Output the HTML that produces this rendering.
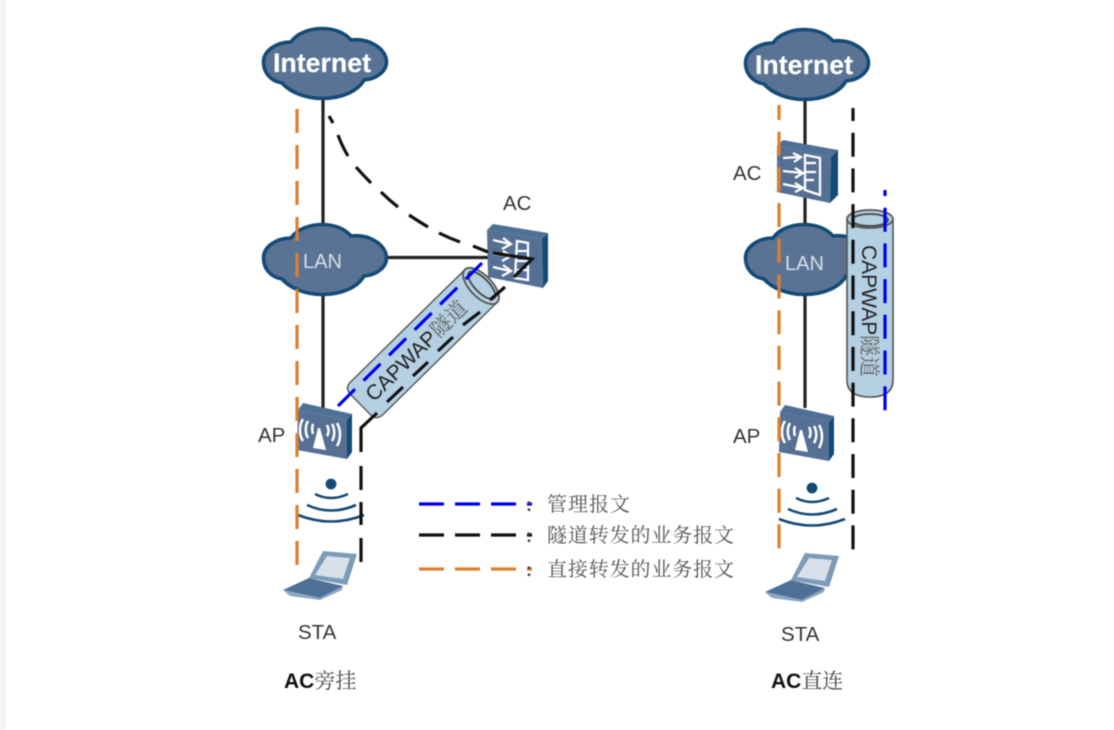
<!DOCTYPE html>
<html><head><meta charset="utf-8">
<style>
html,body{margin:0;padding:0;background:#fff;width:1114px;height:730px;overflow:hidden}
svg{display:block;filter:blur(0.55px)}
.lat{font-family:"Liberation Sans",sans-serif}
.cjk{font-family:"Noto Serif CJK SC","Liberation Serif",serif}
.lbl{font-family:"Liberation Sans",sans-serif;font-size:20.5px;fill:#333}
.leg{font-family:"Noto Serif CJK SC","Liberation Serif",serif;font-size:20px;fill:#555}
</style></head><body>
<svg width="1114" height="730" viewBox="0 0 1114 730" xmlns="http://www.w3.org/2000/svg">
<defs>
<path id="cloud" d="M263.5 62C263.5 51 276 42 291 42C297 33 310 28.5 322 28.5C335 28.5 345 33 351 40C370 38 386.5 49 386.5 62C386.5 71 377 79 364 80C358 91 342 98.5 322 98.5C305 98.5 290 92 282 83C270 81 263.5 72 263.5 62Z" fill="#5a7394" stroke="#134a76" stroke-width="3.6"/>
<g id="ap">
<polygon points="298,410 303,403 352,414 347,420" fill="#4f7096"/>
<polygon points="298,410 347,420 347,459 297,450" fill="#557093"/>
<polygon points="347,420 352,414 352,452 347,459" fill="#134a76"/>
<g fill="none" stroke="#fff" stroke-width="2.5">
<path d="M303 419C299 425 299 435 303 441"/>
<path d="M308 421C305 426 305 433 308 438"/>
<path d="M313 424C312 427 312 431 313 434"/>
<path d="M327 425C329 429 329 433 327 436"/>
<path d="M332 424C335 429 335 436 332 441"/>
<path d="M337 423C341 430 341 439 337 446"/>
</g>
<polygon points="313,448 326,450 320,428 318,428" fill="#fff"/>
</g>
<g id="wifi" fill="none" stroke="#134a76" stroke-width="2.6">
<circle cx="331" cy="484" r="5.4" fill="#134a76" stroke="none"/>
<path d="M315 494Q331 502 348 494"/>
<path d="M307 505Q331 516 356 505"/>
<path d="M298 515Q331 528 364 515"/>
</g>
<g id="laptop">
<polygon points="323,551 357,554 347,585 309,578" fill="#7b9bb8"/>
<polygon points="327,556 350,558 343,579 315,575" fill="#d8e0ea"/>
<polygon points="283,590 309,578 343,586 320,598" fill="#4f7096"/>
<polygon points="283,590 320,598 343,586 342,590 320,600 290,596" fill="#8aa6c0"/>
</g>
</defs>

<rect x="0" y="0" width="6" height="730" fill="#f1f3f5"/>

<!-- left diagram -->
<g stroke="#222" stroke-width="3.2" fill="none">
<path d="M323 98V230"/><path d="M323 290V408"/><path d="M385 257.5H492"/>
</g>
<use href="#cloud"/>
<use href="#cloud" y="196"/>
<text x="322" y="72" text-anchor="middle" class="lat" font-size="26.5" font-weight="bold" fill="#fff" stroke="#dfe6ee" stroke-width=".3" textLength="98" lengthAdjust="spacingAndGlyphs">Internet</text>
<text x="303" y="268" class="lat" font-size="20" fill="#d8dfe8">LAN</text>

<!-- left AC -->
<polygon points="487,230 493,224 548,233 542,239" fill="#4f7096"/>
<polygon points="487,230 542,239 543,288 488,277" fill="#557093"/>
<polygon points="542,239 548,233 548,281 543,288" fill="#134a76"/>
<g fill="none" stroke="#fff" stroke-width="2.3">
<path d="M517 241L528 243V280L515 278Z"/>
<path d="M517 251H528M517 261H528M517 270H528"/>
<path d="M493 240L510 244M503 238L511 244L502 249"/>
<path d="M493 254L510 256M503 251L511 256L502 261"/>
<path d="M493 267L510 271M503 265L511 271L502 276"/>
</g>

<use href="#ap"/>
<use href="#wifi"/>
<use href="#laptop"/>

<!-- left tunnel -->
<g transform="translate(481 286) rotate(-44.5)">
<path d="M0 -23H-160Q-169 -23 -169 -14V14Q-169 23 -160 23H0Z" fill="#b4d0e2" stroke="#555" stroke-width="1.4"/>
<ellipse cx="0" cy="0" rx="11" ry="23" fill="#b4d0e2" stroke="#555" stroke-width="1.8"/>
<ellipse cx="1" cy="0" rx="7" ry="18" fill="#b4d0e2" stroke="#444" stroke-width="1.8"/>
<text x="-158" y="8" class="lat" font-size="21" fill="#222">CAPWAP</text>
<text x="-67" y="8" class="cjk" font-size="21" fill="#666">隧道</text>
</g>

<!-- left flows -->
<path d="M297 109V566" stroke="#dd7f2e" stroke-width="3.2" fill="none" stroke-dasharray="24 12"/>
<g stroke="#111" stroke-width="3.2" fill="none">
<path d="M329 116L333 123"/>
<path d="M338 135Q342 146 348 156"/>
<path d="M356 167Q363 175 371 183"/>
<path d="M381 192Q389 200 398 207"/>
<path d="M409 215Q418 221 428 227"/>
<path d="M439 233Q449 238 460 242"/>
<path d="M473 246L488 252"/>
<path d="M493 253L532 259L514 277"/>
<path d="M505 287L490 300"/>
<path d="M480 312L463 325"/>
<path d="M453 337L438 351"/>
<path d="M428 362L413 376"/>
<path d="M403 387L387 402"/>
<path d="M377 413L361 428V452"/>
<path d="M361 466V490M361 502V525M361 538V562"/>
</g>
<path d="M338 406L482 263" stroke="#0000ee" stroke-width="3.2" fill="none" stroke-dasharray="24 12"/>

<!-- right diagram -->
<g stroke="#222" stroke-width="3.2" fill="none"><path d="M805 98V230"/><path d="M805 290V408"/></g>
<use href="#cloud" x="482" y="1"/>
<use href="#cloud" x="482" y="196"/>
<text x="804" y="74" text-anchor="middle" class="lat" font-size="26.5" font-weight="bold" fill="#fff" stroke="#dfe6ee" stroke-width=".3" textLength="98" lengthAdjust="spacingAndGlyphs">Internet</text>
<text x="785" y="270" class="lat" font-size="20" fill="#d8dfe8">LAN</text>

<!-- right AC -->
<polygon points="777,146 783,140 838,150 831,157" fill="#4f7096"/>
<polygon points="777,146 831,157 830,203 777,192" fill="#557093"/>
<polygon points="831,157 838,150 838,195 830,203" fill="#134a76"/>
<g fill="none" stroke="#fff" stroke-width="2.3">
<path d="M805 155L820 158V195L805 190Z"/>
<path d="M805 163H816M805 172H816M805 180H814"/>
<path d="M783 158L800 157M793 153L801 157L794 162"/>
<path d="M783 171L802 173M795 168L803 173L795 178"/>
<path d="M783 184L802 188M795 183L803 188L795 192"/>
</g>

<use href="#ap" x="482" y="2"/>
<use href="#wifi" x="481" y="4"/>
<use href="#laptop" x="482" y="2"/>

<!-- right tunnel -->
<path d="M847 219V380Q847 397 870 397Q893 397 893 380V219Z" fill="#b4d0e2" stroke="#555" stroke-width="1.6"/>
<ellipse cx="870" cy="219" rx="23" ry="9" fill="#b4d0e2" stroke="#555" stroke-width="1.8"/>
<ellipse cx="870" cy="220" rx="18" ry="6" fill="#b4d0e2" stroke="#444" stroke-width="1.8"/>
<g transform="translate(862 245) rotate(90)">
<text x="0" y="0" class="lat" font-size="21" fill="#222">CAPWAP</text>
<text x="90" y="0" class="cjk" font-size="21" fill="#666">隧道</text>
</g>

<path d="M779 105V552" stroke="#dd7f2e" stroke-width="3.2" fill="none" stroke-dasharray="24 11.7" stroke-dashoffset="9"/>
<path d="M853 108V552" stroke="#111" stroke-width="3.2" fill="none" stroke-dasharray="24 11.7" stroke-dashoffset="11"/>
<path d="M885 190V412" stroke="#0000ee" stroke-width="3.2" fill="none" stroke-dasharray="24 11.7" stroke-dashoffset="18"/>

<!-- labels -->
<text x="503" y="210" class="lbl">AC</text>
<text x="258" y="442" class="lbl">AP</text>
<text x="298" y="639" class="lbl">STA</text>
<text x="733" y="180" class="lbl">AC</text>
<text x="733" y="443" class="lbl">AP</text>
<text x="781" y="641" class="lbl">STA</text>
<text x="284" y="688" font-size="21" font-weight="bold" class="lat" fill="#111">AC<tspan class="cjk" font-weight="400" fill="#444">旁挂</tspan></text>
<text x="771" y="688" font-size="21" font-weight="bold" class="lat" fill="#111">AC<tspan class="cjk" font-weight="400" fill="#444">直连</tspan></text>

<!-- legend -->
<path d="M419 504H532" stroke="#0000ee" stroke-width="3.2" stroke-dasharray="25 11"/>
<path d="M419 535H532" stroke="#111" stroke-width="3.2" stroke-dasharray="25 11"/>
<path d="M419 569H532" stroke="#dd7f2e" stroke-width="3.2" stroke-dasharray="25 11"/>
<text x="526" y="511" class="lat" font-size="18" font-weight="bold" fill="#444">:</text>
<text x="526" y="542" class="lat" font-size="18" font-weight="bold" fill="#444">:</text>
<text x="526" y="576" class="lat" font-size="18" font-weight="bold" fill="#444">:</text>
<text x="547" y="511" class="leg" textLength="83">管理报文</text>
<text x="547" y="542" class="leg" textLength="187">隧道转发的业务报文</text>
<text x="547" y="576" class="leg" textLength="187">直接转发的业务报文</text>
</svg>
</body></html>
